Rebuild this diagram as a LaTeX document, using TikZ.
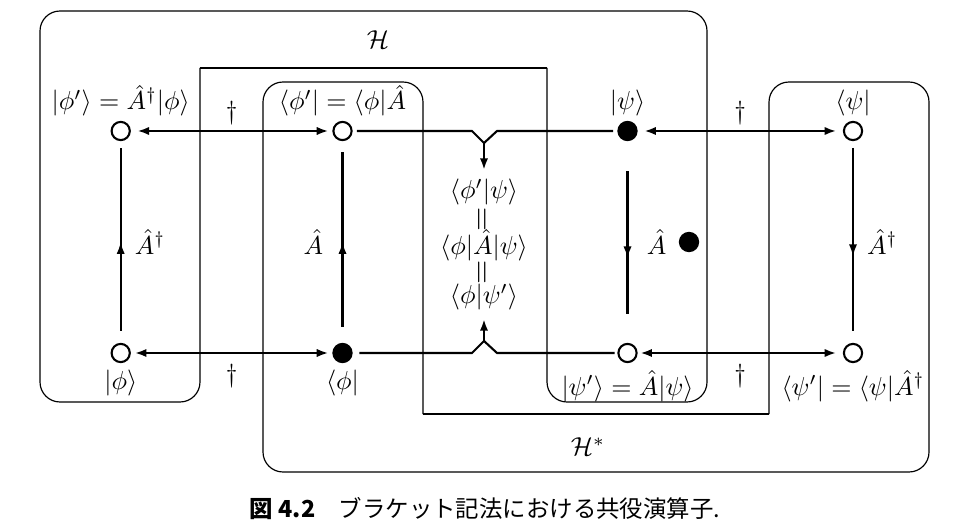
\documentclass[tikz,border=0pt]{standalone}
\usepackage{fontspec}
\newfontfamily\jpfont{Noto Sans CJK JP}
\usetikzlibrary{arrows.meta, positioning, decorations.markings}

\begin{document}
\begin{tikzpicture}[x=0.0135cm, y=-0.0135cm, >={Latex[length=4.4pt,width=3.2pt]},
  state/.style={circle, draw, line width=0.8pt, minimum size=7pt, inner sep=0pt, outer sep=0pt},
  filled/.style={state, fill},
  lab/.style={inner sep=1pt},
  conn/.style={line width=0.8pt},
  region/.style={line width=0.45pt},
  midarrow/.style={postaction={decorate}, decoration={markings, mark=at position #1 with {\arrow{Latex[length=4.6pt,width=3.2pt]}}}},
  midarrow/.default=0.5]
\useasboundingbox (0,0) rectangle (976,526);

\draw[region] (200,68) -- (547,68);
\draw[region, rounded corners=2.7mm] (547,68) -- (547,402) -- (707,402) -- (707,11) -- (40,11) -- (40,402) -- (200,402) -- (200,68);
\draw[region] (423,414) -- (769,414);
\draw[region, rounded corners=2.7mm] (769,414) -- (769,82) -- (929,82) -- (929,472) -- (263,472) -- (263,82) -- (423,82) -- (423,414);

\path (378,40) node (H) {$\mathcal{H}$}
      (588,447) node (Hs) {$\mathcal{H}^*$};

\path (120.7,131) node[state] (v0) {}
      (342.5,131) node[state] (v1) {}
      (627.5,131) node[filled] (v2) {}
      (853,131) node[state] (v3) {}
      (120.7,353) node[state] (v4) {}
      (342.5,353) node[filled] (v5) {}
      (627.5,353) node[state] (v6) {}
      (853,353) node[state] (v7) {}
      (689,242) node[filled] (dot) {};

\node[lab, above=1pt of v0] (l0) {$|\phi'\rangle = \hat{A}^\dagger|\phi\rangle$};
\node[lab, above=1pt of v1] (l1) {$\langle\phi'| = \langle\phi|\hat{A}$};
\node[lab, above=1pt of v2] (l2) {$|\psi\rangle$};
\node[lab, above=1pt of v3] (l3) {$\langle\psi|$};
\node[lab, below=2pt of v4] (l4) {$|\phi\rangle$};
\node[lab, below=2pt of v5] (l5) {$\langle\phi|$};
\node[lab, below=2pt of v6] (l6) {$|\psi'\rangle = \hat{A}|\psi\rangle$};
\node[lab, below=2pt of v7] (l7) {$\langle\psi'| = \langle\psi|\hat{A}^\dagger$};

\path (484,192) node (ip0) {$\langle\phi'|\psi\rangle$}
      (484,219.5) node[rotate=90, scale=1.2] (eq0) {$=$}
      (484,245) node (ip1) {$\langle\phi|\hat{A}|\psi\rangle$}
      (484,272) node[rotate=90, scale=1.2] (eq1) {$=$}
      (484,297) node (ip2) {$\langle\phi|\psi'\rangle$};

\coordinate (j0) at (484,143);
\coordinate (j1) at (484,341);

\draw[conn, <->, shorten <=3pt, shorten >=2pt] (v0) -- node[lab, above=1pt] (d0) {$\dagger$} (v1);
\draw[conn, <->, shorten <=3pt, shorten >=3pt] (v2) -- node[lab, above=1pt] (d1) {$\dagger$} (v3);
\draw[conn, <->, shorten <=2pt, shorten >=2pt] (v4) -- node[lab, below=3pt] (d2) {$\dagger$} (v5);
\draw[conn, <->, shorten <=1.5pt, shorten >=3pt] (v6) -- node[lab, below=3pt] (d3) {$\dagger$} (v7);

\draw[conn, shorten <=2pt, shorten >=2pt] (v1) -- (472,131) -- (j0) -- (497,131) -- (v2);
\draw[conn, shorten <=3pt, shorten >=1.5pt] (v5) -- (472,353) -- (j1) -- (497,353) -- (v6);
\draw[conn, ->] (j0) -- (ip0);
\draw[conn, ->] (j1) -- (ip2);

\draw[conn, midarrow, shorten <=5pt, shorten >=3pt] (v4) -- node[lab, right=4pt] (a0) {$\hat{A}^\dagger$} (v0);
\draw[conn, midarrow, shorten <=6.5pt, shorten >=4.5pt] (v5) -- node[lab, left=6pt] (a1) {$\hat{A}$} (v1);
\draw[conn, midarrow=0.58, shorten <=12pt, shorten >=11.5pt] (v2) -- node[lab, right=6pt] (a2) {$\hat{A}$} (v6);
\draw[conn, midarrow=0.57, shorten <=3pt, shorten >=5pt] (v3) -- node[lab, right=4pt] (a3) {$\hat{A}^\dagger$} (v7);

\node (cap) at (485,509) {\jpfont\fontsize{9}{11}\selectfont\textbf{図 4.2}\quad ブラケット記法における共役演算子.};
\end{tikzpicture}
\end{document}
